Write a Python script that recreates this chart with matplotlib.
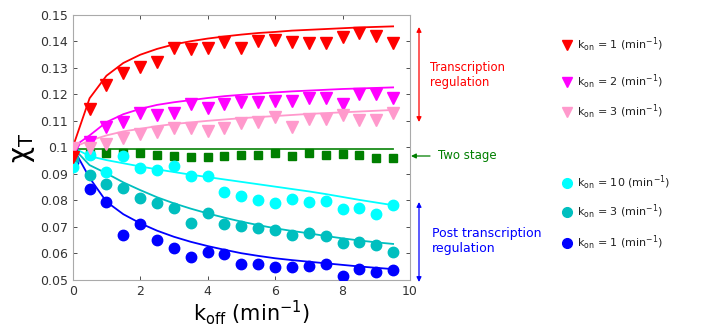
import matplotlib
matplotlib.use("Agg")
import matplotlib.pyplot as plt

plt.rcParams['font.family'] = ['DejaVu Sans']
plt.rcParams['mathtext.default'] = 'regular'

x = [0, 0.5, 1, 1.5, 2, 2.5, 3, 3.5, 4, 4.5, 5, 5.5, 6, 6.5, 7, 7.5, 8, 8.5, 9, 9.5]

# simulation points
red_pts = [0.0965, 0.1143, 0.1235, 0.1281, 0.1304, 0.1323, 0.1373, 0.1370, 0.1376, 0.1398,
           0.1376, 0.1401, 0.1405, 0.1397, 0.1392, 0.1392, 0.1415, 0.1430, 0.1420, 0.1392]
mag_pts = [0.0990, 0.1021, 0.1078, 0.1097, 0.1128, 0.1122, 0.1131, 0.1162, 0.1147, 0.1163,
           0.1170, 0.1170, 0.1175, 0.1173, 0.1187, 0.1187, 0.1163, 0.1201, 0.1200, 0.1185]
pink_pts = [0.0997, 0.0996, 0.1013, 0.1034, 0.1049, 0.1059, 0.1074, 0.1074, 0.1062, 0.1074,
            0.1093, 0.1097, 0.1116, 0.1078, 0.1107, 0.1107, 0.1122, 0.1103, 0.1103, 0.1128]
green_pts = [0.0985, 0.0975, 0.0980, 0.0979, 0.0979, 0.0971, 0.0969, 0.0965, 0.0965, 0.0968,
             0.0970, 0.0970, 0.0979, 0.0969, 0.0979, 0.0971, 0.0975, 0.0971, 0.0961, 0.0961]
cyan_pts = [0.0926, 0.0971, 0.0908, 0.0967, 0.0923, 0.0915, 0.0931, 0.0892, 0.0893, 0.0831,
            0.0817, 0.0802, 0.0789, 0.0805, 0.0795, 0.0798, 0.0766, 0.0773, 0.0748, 0.0783]
teal_pts = [0.0955, 0.0896, 0.0861, 0.0846, 0.0810, 0.0789, 0.0773, 0.0714, 0.0751, 0.0710,
            0.0705, 0.0695, 0.0688, 0.0670, 0.0676, 0.0667, 0.0638, 0.0642, 0.0632, 0.0607]
blue_pts = [0.0946, 0.0843, 0.0793, 0.0670, 0.0710, 0.0651, 0.0622, 0.0586, 0.0607, 0.0597,
            0.0559, 0.0559, 0.0548, 0.0548, 0.0554, 0.0559, 0.0516, 0.0540, 0.0531, 0.0538]

# theory curves
red_fit = [0.1000, 0.1185, 0.1270, 0.1318, 0.1349, 0.1371, 0.1388, 0.1400, 0.1410, 0.1418,
           0.1425, 0.1431, 0.1435, 0.1440, 0.1443, 0.1446, 0.1449, 0.1452, 0.1454, 0.1456]
mag_fit = [0.1000, 0.1045, 0.1095, 0.1125, 0.1145, 0.1160, 0.1170, 0.1178, 0.1186, 0.1193,
           0.1198, 0.1203, 0.1207, 0.1211, 0.1214, 0.1217, 0.1220, 0.1222, 0.1224, 0.1226]
pink_fit = [0.1000, 0.1025, 0.1045, 0.1060, 0.1070, 0.1080, 0.1088, 0.1094, 0.1100, 0.1105,
            0.1110, 0.1114, 0.1118, 0.1122, 0.1126, 0.1129, 0.1132, 0.1135, 0.1138, 0.1141]
green_fit = [0.0994] * 20
cyan_fit = [0.1000, 0.0967, 0.0952, 0.0940, 0.0928, 0.0917, 0.0907, 0.0897, 0.0888, 0.0879,
            0.0870, 0.0861, 0.0852, 0.0843, 0.0834, 0.0824, 0.0813, 0.0802, 0.0792, 0.0782]
teal_fit = [0.1000, 0.0933, 0.0902, 0.0868, 0.0839, 0.0812, 0.0789, 0.0769, 0.0751, 0.0735,
            0.0720, 0.0707, 0.0695, 0.0685, 0.0676, 0.0666, 0.0657, 0.0649, 0.0642, 0.0636]
blue_fit = [0.1000, 0.0885, 0.0795, 0.0748, 0.0714, 0.0686, 0.0663, 0.0644, 0.0628, 0.0614,
            0.0601, 0.0591, 0.0582, 0.0575, 0.0569, 0.0563, 0.0557, 0.0551, 0.0546, 0.0541]

kon_labels = ['1', '2', '3', '10', '3', '1']
x_ticks = [0, 2, 4, 6, 8, 10]
y_ticks = [0.05, 0.06, 0.07, 0.08, 0.09, 0.1, 0.11, 0.12, 0.13, 0.14, 0.15]
y_ticklabels = ['0.05', '0.06', '0.07', '0.08', '0.09', '0.1', '0.11', '0.12', '0.13', '0.14', '0.15']

RED = '#FF0000'
MAG = '#FF00FF'
PINK = '#FF99CC'
GREEN = '#007F00'
CYAN = '#00FFFF'
TEAL = '#00BFBF'
BLUE = '#0000FF'

fig = plt.figure(figsize=(7.02, 3.28), dpi=100)
ax = fig.add_axes([0.1036, 0.1463, 0.4804, 0.8089])

# lines
for fit, c in [(green_fit, '#1a8c1a'), (pink_fit, PINK), (mag_fit, MAG), (red_fit, RED),
               (cyan_fit, CYAN), (teal_fit, TEAL), (blue_fit, BLUE)]:
    ax.plot(x, fit, color=c, lw=1.3, zorder=2)

# markers
ax.plot(x, green_pts, 's', color=GREEN, ms=5.5, mec=GREEN, zorder=3)
ax.plot(x, blue_pts, 'o', color=BLUE, ms=7.5, mec=BLUE, zorder=3)
ax.plot(x, teal_pts, 'o', color=TEAL, ms=7.5, mec=TEAL, zorder=3)
ax.plot(x, cyan_pts, 'o', color=CYAN, ms=7.5, mec=CYAN, zorder=3)
ax.plot(x, mag_pts, 'v', color=MAG, ms=8, mec=MAG, zorder=3)
ax.plot(x, pink_pts, 'v', color=PINK, ms=8, mec=PINK, zorder=3)
ax.plot(x, red_pts, 'v', color=RED, ms=8, mec=RED, zorder=4)

ax.set_xlim(0, 10)
ax.set_ylim(0.05, 0.15)
ax.set_xticks(x_ticks)
ax.set_yticks(y_ticks)
ax.set_yticklabels(y_ticklabels)
ax.tick_params(direction='in', top=True, right=True, labelsize=9, colors='#333333',
               length=3, width=0.6)
for s in ax.spines.values():
    s.set_color('#aaaaaa')
    s.set_linewidth(0.8)
ax.set_xlabel(r'k$_{\mathregular{off}}$ (min$^{\mathregular{-1}}$)', fontsize=15, labelpad=2)
ax.xaxis.set_label_coords(0.53, -0.07, transform=ax.transAxes)
ax.xaxis.label.set_va('top')
ax.set_ylabel(r'$\chi_T$', fontsize=20, labelpad=2)

# annotations (figure pixel coords -> fraction)
W, H = 702.0, 328.0
def fp(px, py):
    return (px / W, 1 - py / H)

arrow_kw = dict(arrowstyle='<|-|>', lw=0.9, mutation_scale=7, shrinkA=0, shrinkB=0)
ax.annotate('', xy=fp(419, 27), xytext=fp(419, 122), xycoords='figure fraction',
            textcoords='figure fraction', arrowprops=dict(color=RED, **arrow_kw))
fig.text(*fp(430, 75), 'Transcription\nregulation', color=RED, fontsize=8.4,
         va='center', ha='left', linespacing=1.25)

ax.annotate('', xy=fp(411, 156), xytext=fp(430, 156), xycoords='figure fraction',
            textcoords='figure fraction',
            arrowprops=dict(arrowstyle='-|>', color=GREEN, lw=0.9, mutation_scale=7,
                            shrinkA=0, shrinkB=0))
fig.text(*fp(438, 156), 'Two stage', color=GREEN, fontsize=8.5, va='center', ha='left')

ax.annotate('', xy=fp(419, 202), xytext=fp(419, 282), xycoords='figure fraction',
            textcoords='figure fraction', arrowprops=dict(color=BLUE, **arrow_kw))
fig.text(*fp(432, 241), 'Post transcription\nregulation', color=BLUE, fontsize=9,
         va='center', ha='left', linespacing=1.2)

# custom legend
leg_rows = [(45, 'v', RED, 7), (82, 'v', MAG, 7), (112, 'v', PINK, 7),
            (183, 'o', CYAN, 7), (212, 'o', TEAL, 7), (243, 'o', BLUE, 7)]
for (py, m, c, ms), lab in zip(leg_rows, kon_labels):
    fx, fy = fp(567, py)
    fig.lines.append(plt.Line2D([fx], [fy], marker=m, color=c, mec=c, ms=ms,
                                transform=fig.transFigure, linestyle='none'))
    fig.text(fx + 10 / W, fy, r'k$_{\mathregular{on}}$ = %s (min$^{\mathregular{-1}}$)' % lab,
             fontsize=8, color='#222222', va='center', ha='left')

fig.savefig('out.png', dpi=100)
